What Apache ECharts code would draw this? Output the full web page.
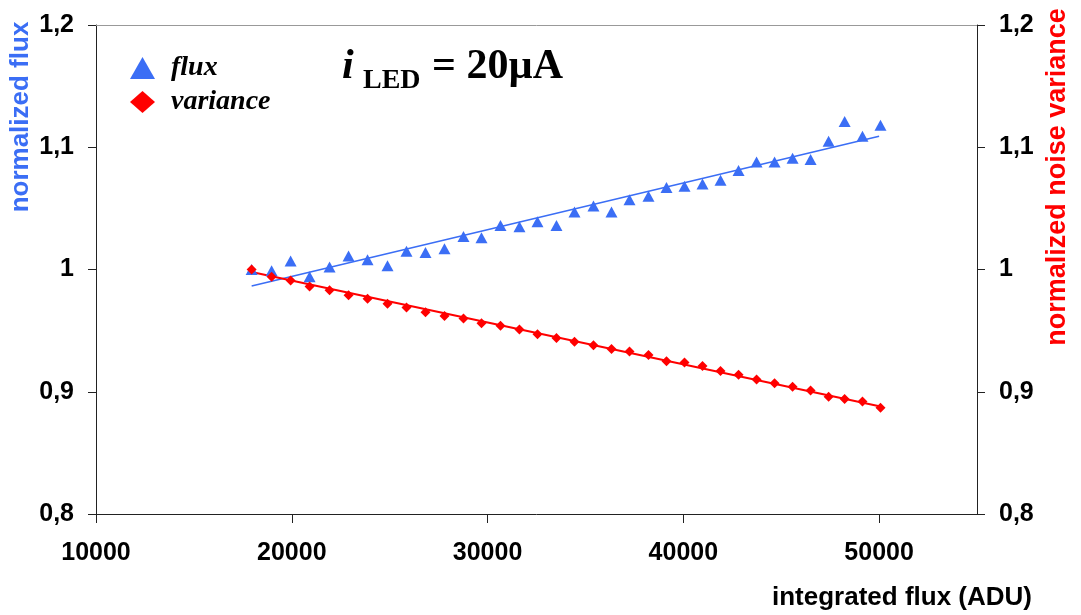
<!DOCTYPE html>
<html lang="en">
<head>
<meta charset="UTF-8">
<title>flux / variance</title>
<script src="https://cdn.jsdelivr.net/npm/echarts@6/dist/echarts.min.js"></script>
<style>
  html, body { margin: 0; height: 100%; background: #fff; }
  #main { width: 1081px; height: 615px; }
</style>
</head>
<body>
<div id="main"></div>
<script>
// integrated flux (ADU) of each exposure
var adu = [17950, 18970, 19940, 20910, 21930, 22900, 23870, 24890, 25860, 26830,
           27800, 28770, 29690, 30660, 31630, 32550, 33520, 34440, 35410, 36330,
           37250, 38220, 39140, 40060, 40980, 41900, 42820, 43740, 44660, 45580,
           46500, 47420, 48240, 49150, 50070];
// normalized flux
var fluxVals = [1.000, 0.999, 1.007, 0.994, 1.002, 1.011, 1.008, 1.003, 1.015, 1.014,
                1.017, 1.027, 1.026, 1.036, 1.035, 1.039, 1.036, 1.047, 1.052, 1.047,
                1.057, 1.060, 1.067, 1.068, 1.070, 1.073, 1.081, 1.088, 1.088, 1.091,
                1.090, 1.105, 1.121, 1.109, 1.118];
// normalized noise variance
var varVals = [1.000, 0.994, 0.991, 0.986, 0.983, 0.979, 0.976, 0.972, 0.969, 0.965,
               0.962, 0.960, 0.956, 0.954, 0.951, 0.947, 0.944, 0.941, 0.938, 0.935,
               0.933, 0.930, 0.925, 0.924, 0.921, 0.917, 0.914, 0.910, 0.907, 0.904,
               0.901, 0.896, 0.894, 0.892, 0.887];
// linear fits (end points)
var fluxFitX = [17950, 50000];
var fluxFitY = [0.9865, 1.109];
var varFitX = [17950, 50070];
var varFitY = [0.998, 0.888];
var xTicks = [10000, 20000, 30000, 40000, 50000];

var BLUE = '#3b6ef5';
var RED = '#ff0000';
var SANS = '"Liberation Sans", Arial, sans-serif';
var SERIF = '"Liberation Serif", "Times New Roman", serif';

function zip(a, b) {
    var out = [];
    for (var i = 0; i < a.length; i++) out.push([a[i], b[i]]);
    return out;
}
function comma(v) {
    return String(+v.toFixed(2)).replace('.', ',');
}

var yAxisBase = {
    type: 'value',
    min: 0.8,
    max: 1.2,
    interval: 0.1,
    splitLine: { show: false },
    axisLine: { show: true, lineStyle: { color: '#222', width: 1 } },
    axisTick: { show: true, length: 8, lineStyle: { color: '#222' } },
    axisLabel: {
        formatter: comma, color: '#000', fontFamily: SANS,
        fontWeight: 'bold', fontSize: 25, margin: 22
    }
};

var chart = echarts.init(document.getElementById('main'));
chart.setOption({
    animation: false,
    backgroundColor: '#fff',
    grid: { left: 96, right: 104, top: 25, bottom: 101 },
    legend: {
        orient: 'vertical',
        left: 125, top: 49,
        itemWidth: 25, itemHeight: 22, itemGap: 6,
        data: [{ name: 'flux', icon: 'triangle' }, { name: 'variance', icon: 'diamond' }],
        textStyle: {
            fontFamily: SERIF, fontStyle: 'italic', fontWeight: 'bold', fontSize: 28,
            color: '#000', padding: [0, 0, 0, 11]
        }
    },
    xAxis: [{
        type: 'value',
        min: 10000, max: 55000, interval: 10000,
        splitLine: { show: false },
        axisLine: { lineStyle: { color: '#222' } },
        axisTick: { length: 9, customValues: xTicks, lineStyle: { color: '#222' } },
        axisLabel: {
            customValues: xTicks, formatter: function (v) { return String(v); },
            color: '#000', fontFamily: SANS, fontWeight: 'bold', fontSize: 25, margin: 27
        }
    }, {
        type: 'value', position: 'top',
        min: 10000, max: 55000,
        splitLine: { show: false },
        axisLine: { show: true, lineStyle: { color: '#999' } },
        axisTick: { show: false },
        axisLabel: { show: false }
    }],
    yAxis: [
        Object.assign({}, yAxisBase, { position: 'left' }),
        Object.assign({}, yAxisBase, { position: 'right' })
    ],
    graphic: [
        { type: 'text', x: 21, y: 117, rotation: Math.PI / 2,
          style: { text: 'normalized flux', align: 'center', verticalAlign: 'middle',
                   fill: BLUE, fontFamily: SANS, fontWeight: 'bold', fontSize: 26 } },
        { type: 'text', x: 1058, y: 177, rotation: Math.PI / 2,
          style: { text: 'normalized noise variance', align: 'center', verticalAlign: 'middle',
                   fill: RED, fontFamily: SANS, fontWeight: 'bold', fontSize: 27 } },
        { type: 'text', x: 1032, y: 598,
          style: { text: 'integrated flux (ADU)', align: 'right', verticalAlign: 'middle',
                   fill: '#000', fontFamily: SANS, fontWeight: 'bold', fontSize: 26 } },
        { type: 'text', x: 342, y: 67,
          style: { text: 'i', align: 'left', verticalAlign: 'middle', fill: '#000',
                   fontFamily: SERIF, fontStyle: 'italic', fontWeight: 'bold', fontSize: 42 } },
        { type: 'text', x: 363, y: 81,
          style: { text: 'LED', align: 'left', verticalAlign: 'middle', fill: '#000',
                   fontFamily: SERIF, fontWeight: 'bold', fontSize: 28 } },
        { type: 'text', x: 432, y: 67,
          style: { text: '= 20µA', align: 'left', verticalAlign: 'middle', fill: '#000',
                   fontFamily: SERIF, fontWeight: 'bold', fontSize: 42 } }
    ],
    series: [
        { name: 'flux fit', type: 'line', data: zip(fluxFitX, fluxFitY), yAxisIndex: 0,
          showSymbol: false, symbol: 'none', lineStyle: { color: BLUE, width: 1.5 }, z: 2 },
        { name: 'variance fit', type: 'line', data: zip(varFitX, varFitY), yAxisIndex: 1,
          showSymbol: false, symbol: 'none', lineStyle: { color: RED, width: 2 }, z: 2 },
        { name: 'flux', type: 'scatter', data: zip(adu, fluxVals), yAxisIndex: 0,
          symbol: 'triangle', symbolSize: [12, 11], itemStyle: { color: BLUE, opacity: 1 }, z: 3 },
        { name: 'variance', type: 'scatter', data: zip(adu, varVals), yAxisIndex: 1,
          symbol: 'diamond', symbolSize: 10, itemStyle: { color: RED, opacity: 1 }, z: 3 }
    ]
});
</script>
</body>
</html>
